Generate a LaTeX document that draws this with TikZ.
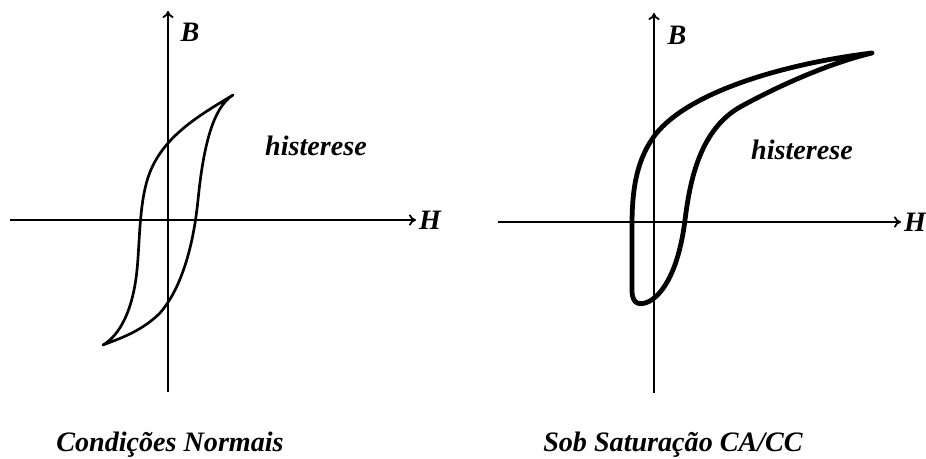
\documentclass[tikz,border=0pt]{standalone}
\usepackage{fontspec}
\setmainfont{Liberation Serif}
\usepackage{tikz}
\usetikzlibrary{arrows.meta,positioning}

\tikzset{
  axis/.style={-{To[length=5pt,width=8pt,line width=1.3pt]}, line width=1.3pt},
  lbl/.style={font=\fontsize{20}{22}\selectfont\bfseries\itshape, inner sep=0pt},
  loopthin/.style={line width=1.9pt, line join=round, line cap=round},
  loopthick/.style={line width=3.4pt, line join=round, line cap=round}
}

\begin{document}
\begin{tikzpicture}[x=0.025cm, y=-0.025cm]
    \useasboundingbox (0,0) rectangle (926,459);

    % Normal conditions
    \coordinate (lW) at (10,220);
    \coordinate (lE) at (416,220);
    \coordinate (lS) at (168,392);
    \coordinate (lN) at (168,11);
    \draw[axis] (lW) -- (lE);
    \draw[axis] (lS) -- (lN);
    \node[lbl, right=2pt of lE] (lH) {H};
    \node[lbl] (lB) at (190,32) {B};
    \node[lbl] (lhist) at (316,146) {histerese};
    \draw[loopthin] (103,345) .. controls (120,335) and (133,310) .. (137,270)
        .. controls (140,240) and (139,200) .. (150,172)
        .. controls (165,135) and (200,115) .. (233,95)
        .. controls (212,108) and (203,150) .. (198,200)
        .. controls (193,250) and (180,290) .. (160,313)
        .. controls (140,333) and (115,340) .. cycle;
    \node[lbl] (lcap) at (170,445) {Condições Normais};

    % AC/DC saturation
    \coordinate (rW) at (498,222);
    \coordinate (rE) at (901,222);
    \coordinate (rS) at (654,393);
    \coordinate (rN) at (654,13);
    \draw[axis] (rW) -- (rE);
    \draw[axis] (rS) -- (rN);
    \node[lbl, right=2pt of rE] (rH) {H};
    \node[lbl] (rB) at (677,35) {B};
    \node[lbl] (rhist) at (802,150) {histerese};
    \draw[loopthick] (872,53) .. controls (790,63) and (690,90) .. (655,135)
        .. controls (638,158) and (632,185) .. (632,225)
        -- (632,290)
        .. controls (632,305) and (640,306) .. (650,301)
        .. controls (668,290) and (680,260) .. (685,220)
        .. controls (690,180) and (700,130) .. (740,107)
        .. controls (780,85) and (830,63) .. cycle;
    \node[lbl] (rcap) at (673,445) {Sob Saturação CA/CC};
\end{tikzpicture}
\end{document}
